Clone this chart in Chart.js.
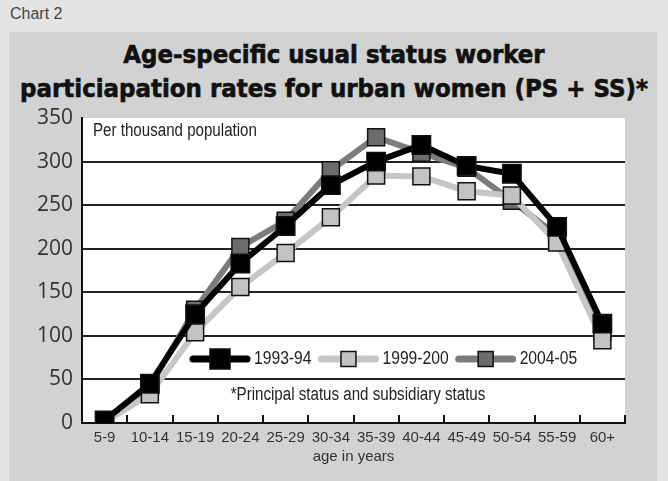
<!DOCTYPE html>
<html>
<head>
<meta charset="utf-8">
<script src="https://cdn.jsdelivr.net/npm/chart.js@4.4.1/dist/chart.umd.min.js"></script>
<style>
  body { margin: 0; background: #e4e4e4; }
  #wrap { position: relative; width: 668px; height: 481px; overflow: hidden; }
  #panel { position: absolute; left: 9px; top: 32px; width: 648px; height: 449px; background: #d2d2d2; }
  #label { position: absolute; left: 10px; top: 5px; font: 16px "Liberation Sans", sans-serif; color: #444; }
  .title { position: absolute; left: 0; width: 668px; text-align: center; font-family: "DejaVu Sans Condensed", "DejaVu Sans", sans-serif; font-weight: bold; font-size: 25.5px; color: #111; white-space: nowrap; -webkit-text-stroke: 0.6px #111; }
  #t1 { top: 39px; }
  #t2 { top: 73px; }
  canvas { position: absolute; left: 0; top: 0; }
</style>
</head>
<body>
<div id="wrap">
  <div id="panel"></div>
  <div id="label">Chart 2</div>
  <div class="title" id="t1">Age-specific usual status worker</div>
  <div class="title" id="t2">particiapation rates for urban women (PS + SS)*</div>
  <canvas id="chart" width="668" height="481"></canvas>
</div>
<script>
const ageGroups = ["5-9", "10-14", "15-19", "20-24", "25-29", "30-34", "35-39", "40-44", "45-49", "50-54", "55-59", "60+"];
const rounds = ["1993-94", "1999-200", "2004-05"];
const values9394 = [3, 45, 125, 183, 226, 273, 300, 319, 295, 286, 225, 114];
const values9900 = [1, 33, 104, 156, 195, 236, 284, 283, 266, 261, 207, 95];
const values0405 = [2, 42, 130, 202, 232, 290, 328, 310, 293, 255, 215, 105];
const yTicks = [0, 50, 100, 150, 200, 250, 300, 350];

const lineColors = ["#000000", "#c6c6c6", "#7c7c7c"];
const fillColors = ["#000000", "#c2c2c2", "#6c6c6c"];
const sans = '"Liberation Sans", sans-serif';

// condensed-looking text: draw a normal face squeezed horizontally
function narrowText(ctx, text, x, y, align, squeeze) {
  ctx.save();
  ctx.font = "18px " + sans;
  ctx.textBaseline = "middle";
  ctx.textAlign = align;
  ctx.translate(x, y);
  ctx.scale(squeeze, 1);
  ctx.fillText(text, 0, 0);
  const w = ctx.measureText(text).width * squeeze;
  ctx.restore();
  return w;
}

const extras = {
  id: "extras",
  afterDraw(chart) {
    const ctx = chart.ctx;
    const x = chart.scales.x;
    const area = chart.chartArea;
    ctx.save();
    // inward tick marks on the category axis
    ctx.strokeStyle = "#111";
    ctx.lineWidth = 2;
    for (let i = 0; i < ageGroups.length; i++) {
      const px = Math.round(x.getPixelForValue(i + 0.5));
      ctx.beginPath();
      ctx.moveTo(px, area.bottom);
      ctx.lineTo(px, area.bottom - 8);
      ctx.stroke();
    }
    // notes
    ctx.fillStyle = "#222";
    narrowText(ctx, "Per thousand population", area.left + 11, 131, "left", 0.84);
    narrowText(ctx, "*Principal status and subsidiary status", 358, 395, "center", 0.84);
    // legend
    let lx = 193;
    const ly = 359;
    rounds.forEach(function(name, i) {
      ctx.strokeStyle = lineColors[i];
      ctx.lineWidth = 7;
      ctx.lineCap = "round";
      ctx.beginPath();
      ctx.moveTo(lx, ly);
      ctx.lineTo(lx + 54, ly);
      ctx.stroke();
      const s = i === 0 ? 20 : 15;
      ctx.fillStyle = fillColors[i];
      ctx.fillRect(lx + 27 - s / 2, ly - s / 2, s, s);
      ctx.lineWidth = 1.5;
      ctx.strokeStyle = "#111";
      ctx.strokeRect(lx + 27 - s / 2, ly - s / 2, s, s);
      ctx.fillStyle = "#222";
      const w = narrowText(ctx, name, lx + 61, ly, "left", 0.87);
      lx += 61 + w + 10;
    });
    ctx.restore();
  }
};

function makeSet(label, data, i, r) {
  return {
    label: label,
    data: data,
    borderColor: lineColors[i],
    backgroundColor: fillColors[i],
    borderWidth: 6,
    pointStyle: "rect",
    pointRadius: r,
    pointBorderColor: "#111",
    pointBorderWidth: 1.5,
    tension: 0
  };
}

new Chart(document.getElementById("chart"), {
  type: "line",
  data: {
    labels: ageGroups,
    datasets: [
      makeSet(rounds[0], values9394, 0, 13),
      makeSet(rounds[1], values9900, 1, 12),
      makeSet(rounds[2], values0405, 2, 12)
    ]
  },
  plugins: [
    {
      id: "whiteArea",
      beforeDraw(chart) {
        const a = chart.chartArea;
        chart.ctx.save();
        chart.ctx.fillStyle = "#ffffff";
        chart.ctx.fillRect(a.left, a.top, a.right - a.left, a.bottom - a.top);
        chart.ctx.restore();
      }
    },
    extras
  ],
  options: {
    responsive: false,
    animation: false,
    layout: { padding: { left: 0, right: 43, top: 118, bottom: 0 } },
    plugins: { legend: { display: false }, tooltip: { enabled: false } },
    scales: {
      x: {
        offset: true,
        afterFit(scale) { scale.height = 481 - 423; },
        grid: { drawOnChartArea: false, drawTicks: false },
        border: { color: "#111", width: 2 },
        ticks: { color: "#333", font: { family: sans, size: 15 }, padding: 6, maxRotation: 0, autoSkip: false },
        title: { display: true, text: "age in years", color: "#333", font: { family: sans, size: 15 }, padding: { top: 0, bottom: 15 } }
      },
      y: {
        min: 0,
        max: 350,
        afterFit(scale) { scale.width = 82; },
        afterBuildTicks(scale) { scale.ticks = yTicks.map(v => ({ value: v })); },
        grid: {
          drawTicks: false,
          lineWidth: 2,
          color: ctx => (ctx.tick && (ctx.tick.value === 350 || ctx.tick.value === 0)) ? "rgba(0,0,0,0)" : "#222"
        },
        border: { color: "#111", width: 2 },
        ticks: { color: "#333", font: { family: '"Open Sans", sans-serif', size: 21 }, padding: 9 }
      }
    }
  }
});
</script>
</body>
</html>
